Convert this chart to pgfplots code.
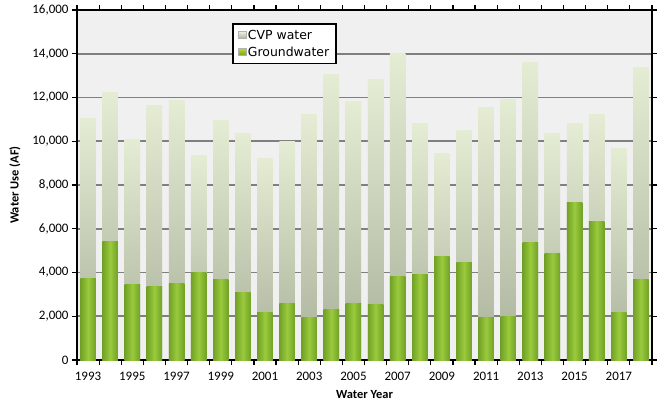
\documentclass[border=0pt]{standalone}
\usepackage{pgfplots}
\usepackage{pgfplotstable}
\pgfplotsset{compat=1.18}
\usepackage{fontspec}
\setmainfont{Carlito}
\newfontfamily\legfont{DejaVu Sans}

\definecolor{gwmid}{HTML}{9ACA3C}
\definecolor{gwedge}{HTML}{71A126}
\definecolor{cvptop}{HTML}{E4ECD4}
\definecolor{cvpbot}{HTML}{A9B19A}
\definecolor{plotbg}{HTML}{F0F0F0}
\definecolor{gridgray}{HTML}{7F7F7F}

\pgfplotstableread{
x gw cvp
0 3730 7330
1 5440 6810
2 3430 6670
3 3380 8270
4 3520 8320
5 4020 5310
6 3700 7270
7 3090 7280
8 2180 7050
9 2590 7380
10 1940 9260
11 2330 10740
12 2590 9210
13 2560 10240
14 3830 10200
15 3920 6870
16 4740 4720
17 4480 6030
18 1940 9580
19 2010 9920
20 5390 8230
21 4890 5480
22 7220 3570
23 6340 4860
24 2190 7500
25 3670 9680
}\water

\begin{document}
\begin{tikzpicture}
\begin{axis}[
    scale only axis,
    width=575bp, height=350bp,
    ybar, bar shift=0pt,
    bar width=0.7,
    xmin=-0.5, xmax=25.5,
    ymin=0, ymax=16000,
    ytick={0,2000,...,16000},
    xtick={0,2,...,24},
    xticklabels={1993,1995,1997,1999,2001,2003,2005,2007,2009,2011,2013,2015,2017},
    minor xtick={-0.5,0.5,...,25.5},
    tick align=outside,
    xtick style={draw=none},
    minor x tick style={draw=black, line width=1.2pt},
    minor tick length=5bp,
    ytick style={black, line width=1.2pt},
    major tick length=5bp,
    ymajorgrids=true,
    major grid style={draw=gridgray, line width=1.8pt},
    axis line style={line width=2.2pt},
    axis background/.style={fill=plotbg},
    scaled y ticks=false,
    /pgf/number format/.cd, 1000 sep={,}, assume math mode=true,
    /pgfplots/.cd,
    tick label style={font=\fontsize{13}{15}\selectfont},
    xticklabel style={yshift=-4bp},
    xlabel={Water Year},
    ylabel={Water Use (AF)},
    label style={font=\fontsize{12.5}{14}\selectfont\bfseries},
    xlabel style={yshift=-3bp},
    ylabel style={yshift=5bp},
    legend cell align=left,
    legend style={at={(0.27,0.963)}, anchor=north west,
        draw=black, line width=1.8pt, fill=white,
        font=\legfont\fontsize{12.5}{14}\selectfont,
        inner xsep=5bp, inner ysep=4bp, row sep=2bp},
    legend image code/.code={
        \path[draw=gray!60, line width=0.4pt, #1] (0.04cm,-0.12cm) rectangle (0.3cm,0.14cm);
    },
]
\addlegendimage{top color=cvptop!60!white, bottom color=cvpbot}
\addlegendentry{CVP water}
\addlegendimage{top color=gwmid!60!yellow, bottom color=gwedge}
\addlegendentry{Groundwater}
\pgfplotsinvokeforeach{0,...,25}{
  \addplot[forget plot, draw=none, top color=cvptop, bottom color=cvpbot,
      restrict x to domain=#1:#1]
      table[x=x, y expr=\thisrow{gw}+\thisrow{cvp}]{\water};
  \addplot[forget plot, draw=none, left color=gwedge, right color=gwedge, middle color=gwmid,
      restrict x to domain=#1:#1]
      table[x=x, y=gw]{\water};
}
\end{axis}
\path (current axis.south west) +(-77bp,-44bp) (current axis.north east) +(9bp,10bp);
\end{tikzpicture}
\end{document}
